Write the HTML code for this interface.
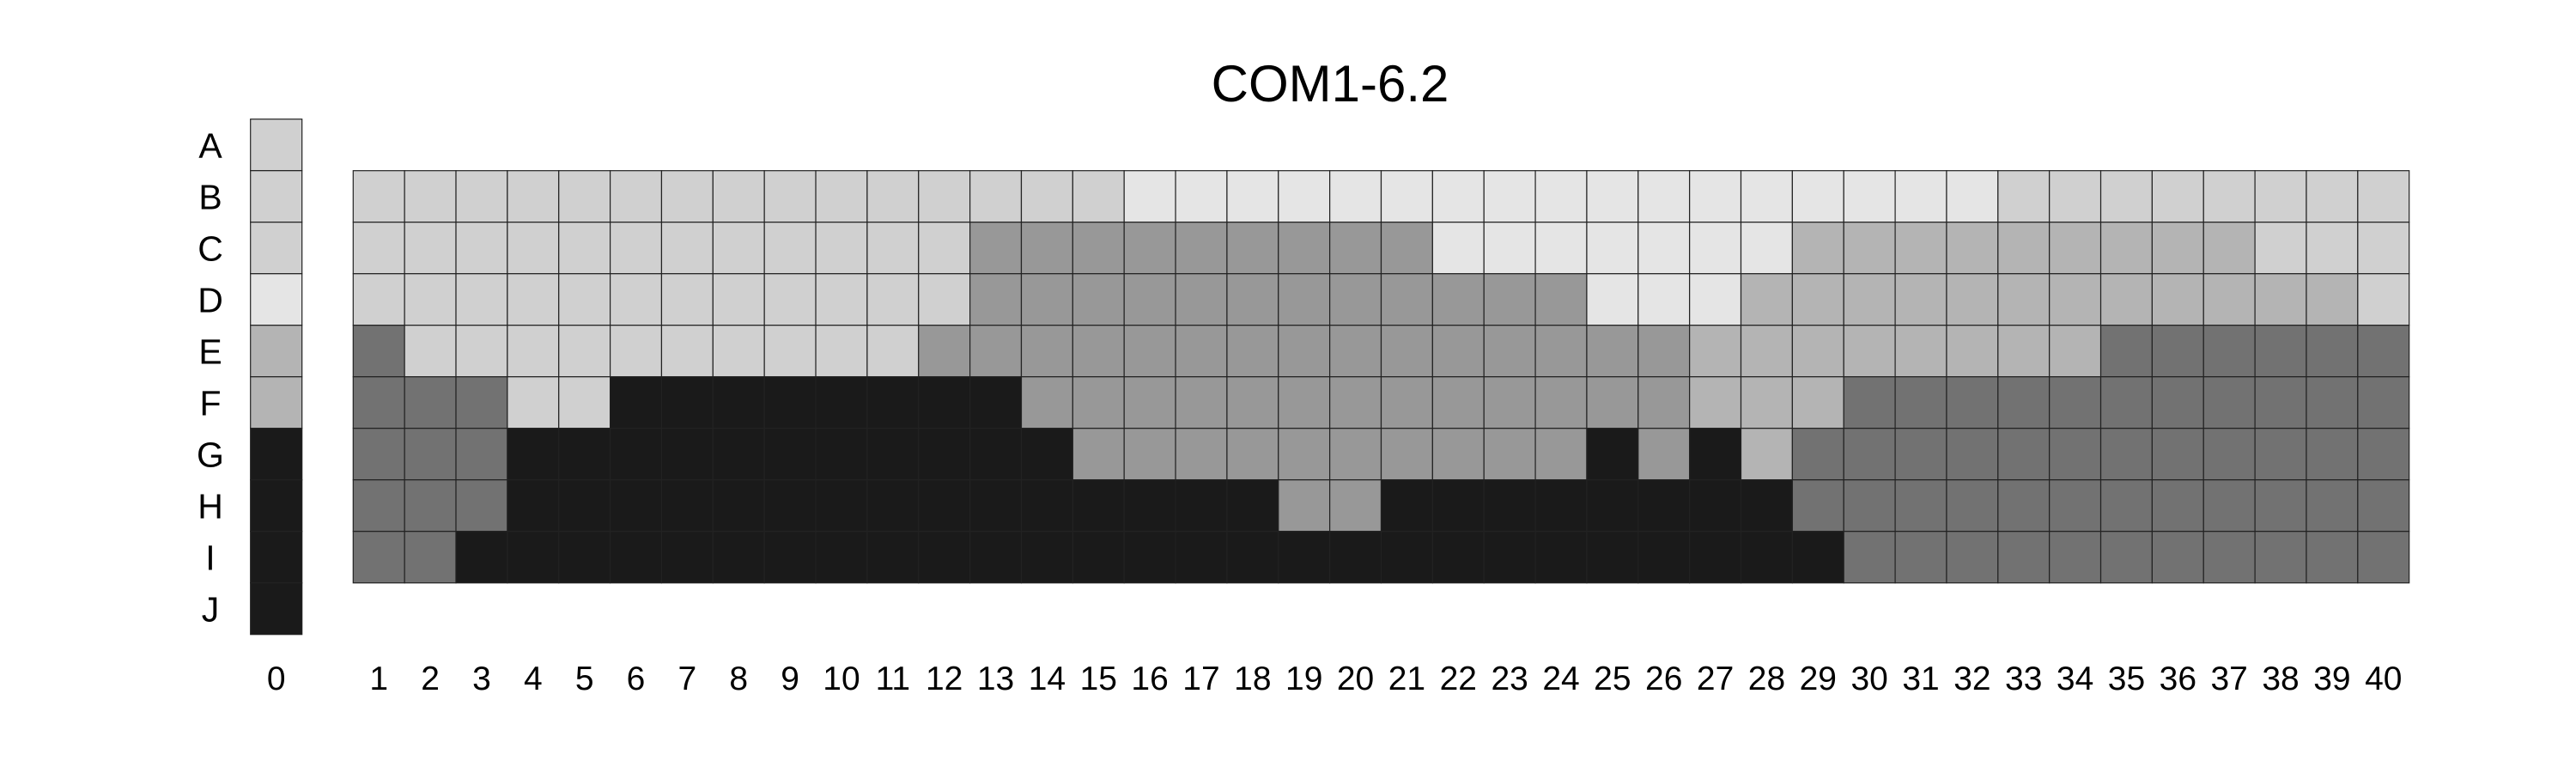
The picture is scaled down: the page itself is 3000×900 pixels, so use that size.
<!DOCTYPE html>
<html><head><meta charset="utf-8"><style>
html,body{margin:0;padding:0;background:#fff;}
svg{display:block;font-family:"Liberation Sans",Arial,sans-serif;}
</style></head><body>
<svg id="chart" width="3000" height="900" viewBox="0 0 3000 900" xmlns="http://www.w3.org/2000/svg">
<rect width="3000" height="900" fill="#fff"/>
<text x="1549" y="118" font-size="60" text-anchor="middle" fill="#000">COM1-6.2</text>
<g id="col0"></g>
<g id="grid"></g>
<g id="rowlabels"></g>
<g id="collabels"></g>
</svg>
<script>
const rowLabels = ["A","B","C","D","E","F","G","H","I","J"];
const colLabels = ["0","1","2","3","4","5","6","7","8","9","10","11","12","13","14","15","16","17","18","19","20","21","22","23","24","25","26","27","28","29","30","31","32","33","34","35","36","37","38","39","40"];
const levelColors = ["#ffffff","#e5e5e5","#d0d0d0","#b4b4b4","#989898","#727272","#1a1a1a"];
const col0Values = [2,2,2,1,3,3,6,6,6,6];
const rowB = [2,2,2,2,2,2,2,2,2,2,2,2,2,2,2,1,1,1,1,1,1,1,1,1,1,1,1,1,1,1,1,1,2,2,2,2,2,2,2,2];
const rowC = [2,2,2,2,2,2,2,2,2,2,2,2,4,4,4,4,4,4,4,4,4,1,1,1,1,1,1,1,3,3,3,3,3,3,3,3,3,2,2,2];
const rowD = [2,2,2,2,2,2,2,2,2,2,2,2,4,4,4,4,4,4,4,4,4,4,4,4,1,1,1,3,3,3,3,3,3,3,3,3,3,3,3,2];
const rowE = [5,2,2,2,2,2,2,2,2,2,2,4,4,4,4,4,4,4,4,4,4,4,4,4,4,4,3,3,3,3,3,3,3,3,5,5,5,5,5,5];
const rowF = [5,5,5,2,2,6,6,6,6,6,6,6,6,4,4,4,4,4,4,4,4,4,4,4,4,4,3,3,3,5,5,5,5,5,5,5,5,5,5,5];
const rowG = [5,5,5,6,6,6,6,6,6,6,6,6,6,6,4,4,4,4,4,4,4,4,4,4,6,4,6,3,5,5,5,5,5,5,5,5,5,5,5,5];
const rowH = [5,5,5,6,6,6,6,6,6,6,6,6,6,6,6,6,6,6,4,4,6,6,6,6,6,6,6,6,5,5,5,5,5,5,5,5,5,5,5,5];
const rowI = [5,5,6,6,6,6,6,6,6,6,6,6,6,6,6,6,6,6,6,6,6,6,6,6,6,6,6,6,6,5,5,5,5,5,5,5,5,5,5,5];
const gridRows = [rowB,rowC,rowD,rowE,rowF,rowG,rowH,rowI];
const gridRowNames = ["B","C","D","E","F","G","H","I"];

const NS="http://www.w3.org/2000/svg";
const cellH = 60;
const topY = 138.7;
const col0X = 291.7, col0W = 60;
const gridX = 411.3, gridW = (2805.7-411.3)/40;
function yScale(rowIndex){ return topY + rowIndex*cellH; }
function xScale(colIndex){ return gridX + (colIndex-1)*gridW; }

const g0=document.getElementById('col0');
col0Values.forEach((v,i)=>{
  const r=document.createElementNS(NS,'rect');
  r.setAttribute('x',col0X);r.setAttribute('y',yScale(i));
  r.setAttribute('width',col0W);r.setAttribute('height',cellH);
  r.setAttribute('fill',levelColors[v]);r.setAttribute('stroke','#222');r.setAttribute('stroke-width','1.2');
  
  
  g0.appendChild(r);
});
const g=document.getElementById('grid');
gridRows.forEach((row,ri)=>{
  row.forEach((v,ci)=>{
    const r=document.createElementNS(NS,'rect');
    r.setAttribute('x',xScale(ci+1));r.setAttribute('y',yScale(ri+1));
    r.setAttribute('width',gridW);r.setAttribute('height',cellH);
    r.setAttribute('fill',levelColors[v]);r.setAttribute('stroke','#222');r.setAttribute('stroke-width','1.2');
    
    
    g.appendChild(r);
  });
});
const gl=document.getElementById('rowlabels');
rowLabels.forEach((l,i)=>{
  const t=document.createElementNS(NS,'text');
  t.setAttribute('x',245);t.setAttribute('y',yScale(i)+cellH/2+15);
  t.setAttribute('font-size','41');t.setAttribute('text-anchor','middle');
  t.textContent=l;
  
  
  gl.appendChild(t);
});
const gc=document.getElementById('collabels');
colLabels.forEach((l,i)=>{
  const t=document.createElementNS(NS,'text');
  const cx = i===0 ? col0X+col0W/2 : xScale(i)+gridW/2;
  t.setAttribute('x',cx);t.setAttribute('y',803);
  t.setAttribute('font-size','39');t.setAttribute('text-anchor','middle');
  t.textContent=l;
  
  
  gc.appendChild(t);
});
</script>
</body></html>
